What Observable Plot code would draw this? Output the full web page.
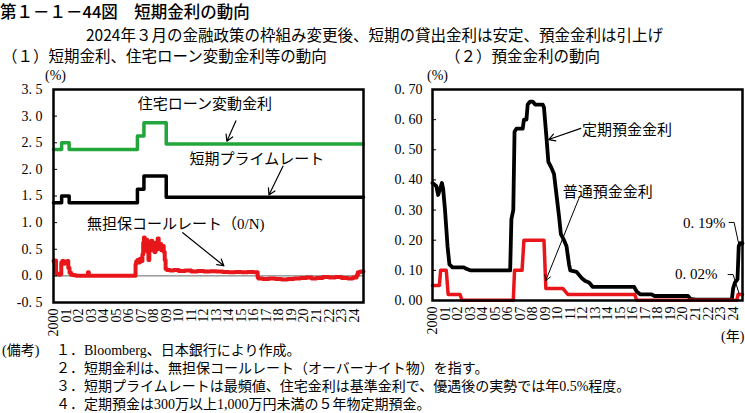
<!DOCTYPE html>
<html><head><meta charset="utf-8">
<script src="https://cdn.jsdelivr.net/npm/d3@7"></script>
<script src="https://cdn.jsdelivr.net/npm/@observablehq/plot@0.6"></script>
<style>
body{margin:0;background:#fff;}
#root{position:relative;width:745px;height:413px;background:#fff;overflow:hidden;}
.a{position:absolute;white-space:nowrap;line-height:1;color:#000;}
.sans{font-family:'Noto Sans CJK JP',sans-serif;}
.serif{font-family:'Liberation Serif','Noto Sans CJK JP',serif;}
.chart{position:absolute;top:60px;}
</style></head>
<body>
<div id="root">
  <div class="a sans" style="left:0;top:3px;font-size:16.5px;font-weight:500;">第１－１－44図　短期金利の動向</div>
  <div class="a sans" style="left:86px;top:27px;font-size:15.5px;">2024年３月の金融政策の枠組み変更後、短期の貸出金利は安定、預金金利は引上げ</div>
  <div class="a sans" style="left:2px;top:48px;font-size:15.5px;">（１）短期金利、住宅ローン変動金利等の動向</div>
  <div class="a sans" style="left:445px;top:48px;font-size:15.5px;">（２）預金金利の動向</div>
  <div class="a serif" style="left:45px;top:69px;font-size:14px;">(%)</div>
  <div class="a serif" style="left:427px;top:69px;font-size:14px;">(%)</div>
  <div class="a serif" style="left:721px;top:330px;font-size:14px;">(年)</div>
  <div id="left" class="chart" style="left:0;"></div>
  <div id="right" class="chart" style="left:380px;"></div>
  <div class="a serif" style="left:2px;top:344px;font-size:14px;">(備考)</div>
  <div class="a serif" style="left:56px;top:344px;font-size:14px;">１．Bloomberg、日本銀行により作成。</div>
  <div class="a serif" style="left:56px;top:362px;font-size:14px;">２．短期金利は、無担保コールレート（オーバーナイト物）を指す。</div>
  <div class="a serif" style="left:56px;top:380px;font-size:14px;">３．短期プライムレートは最頻値、住宅金利は基準金利で、優遇後の実勢では年0.5%程度。</div>
  <div class="a serif" style="left:56px;top:398px;font-size:14px;">４．定期預金は300万以上1,000万円未満の５年物定期預金。</div>
</div>
<script>
// ---------- data ----------
const yearTicks = [2000,2001,2002,2003,2004,2005,2006,2007,2008,2009,2010,2011,2012,2013,2014,2015,2016,2017,2018,2019,2020,2021,2022,2023,2024];
const yearLabels = ["2000","01","02","03","04","05","06","07","08","09","10","11","12","13","14","15","16","17","18","19","20","21","22","23","24"];
const leftYTicks = [-0.5,0,0.5,1,1.5,2,2.5,3,3.5];
const rightYTicks = [0,0.1,0.2,0.3,0.4,0.5,0.6,0.7];

// 住宅ローン変動金利 / 短期プライムレート (step changes)
const housingX = [2000, 2000.65, 2001.25, 2006.7, 2007.22, 2009.0, 2024.75];
const housingY = [2.375, 2.5, 2.375, 2.625, 2.875, 2.475, 2.475];
const primeX = [2000, 2000.65, 2001.25, 2006.7, 2007.22, 2009.0, 2024.75];
const primeY = [1.375, 1.5, 1.375, 1.625, 1.875, 1.475, 1.475];

// 無担保コールレート (O/N)
const callX = [2000.00,2000.05,2000.10,2000.20,2000.30,2000.40,2000.55,2000.62,2000.70,2000.80,2000.90,2001.00,2001.10,2001.18,2001.28,2001.40,2001.60,2001.80,2002.00,2002.40,2002.75,2002.82,2003.20,2003.70,2004.20,2004.70,2005.20,2005.70,2006.20,2006.55,2006.60,2006.70,2006.80,2006.90,2007.00,2007.10,2007.16,2007.22,2007.28,2007.35,2007.42,2007.48,2007.58,2007.65,2007.72,2007.80,2007.88,2007.95,2008.05,2008.15,2008.22,2008.32,2008.40,2008.50,2008.60,2008.70,2008.80,2008.88,2008.95,2009.05,2009.30,2009.60,2010.00,2010.50,2011.00,2011.50,2012.00,2012.50,2013.00,2013.50,2014.00,2014.50,2015.00,2015.50,2016.00,2016.30,2016.35,2016.70,2017.20,2017.70,2018.20,2018.70,2019.20,2019.70,2020.20,2020.60,2021.00,2021.50,2022.00,2022.50,2023.00,2023.50,2023.90,2024.20,2024.30,2024.50,2024.75];
const callY = [0.28,0.25,0.29,0.05,0.03,0.02,0.03,0.25,0.28,0.23,0.27,0.25,0.28,0.15,0.06,0.02,0.01,0.002,0.002,0.003,0.07,0.002,0.001,0.002,0.001,0.002,0.001,0.002,0.002,0.22,0.27,0.30,0.25,0.32,0.28,0.40,0.62,0.72,0.52,0.50,0.68,0.45,0.30,0.60,0.48,0.66,0.50,0.58,0.45,0.62,0.50,0.70,0.52,0.60,0.48,0.56,0.45,0.30,0.13,0.11,0.10,0.11,0.09,0.10,0.08,0.09,0.08,0.085,0.08,0.075,0.07,0.075,0.07,0.075,0.07,-0.03,-0.05,-0.06,-0.05,-0.06,-0.07,-0.06,-0.05,-0.04,-0.03,-0.05,-0.04,-0.02,-0.03,-0.02,-0.04,-0.05,-0.03,0.01,0.07,0.08,0.08];

// 定期預金金利
const tdX = [2000.0,2000.3,2000.45,2000.6,2000.75,2000.85,2001.0,2001.2,2001.35,2001.6,2002.0,2002.5,2002.7,2003.0,2004.0,2005.0,2006.0,2006.2,2006.3,2006.45,2006.55,2006.7,2007.0,2007.2,2007.3,2007.5,2007.6,2007.8,2008.0,2008.2,2008.8,2008.9,2009.1,2009.25,2009.5,2009.7,2009.9,2010.1,2010.25,2010.5,2010.7,2010.9,2011.0,2011.5,2011.7,2011.9,2012.2,2012.5,2012.8,2014.0,2015.0,2016.1,2016.3,2016.6,2017.5,2017.7,2020.4,2020.6,2021.0,2022.0,2023.0,2023.9,2024.0,2024.15,2024.35,2024.45,2024.55,2024.75];
const tdY = [0.39,0.38,0.35,0.37,0.39,0.37,0.30,0.18,0.12,0.11,0.11,0.11,0.105,0.10,0.10,0.10,0.10,0.10,0.27,0.30,0.56,0.57,0.57,0.57,0.60,0.60,0.65,0.66,0.66,0.65,0.65,0.64,0.54,0.46,0.44,0.42,0.35,0.28,0.22,0.20,0.18,0.12,0.10,0.095,0.085,0.075,0.065,0.06,0.045,0.045,0.045,0.045,0.03,0.02,0.02,0.015,0.015,0.005,0.003,0.003,0.003,0.003,0.04,0.06,0.07,0.18,0.19,0.19];

// 普通預金金利
const odX = [2000.0,2000.55,2000.65,2001.1,2001.25,2002.2,2002.35,2006.45,2006.55,2007.15,2007.3,2008.9,2009.05,2010.4,2010.8,2016.15,2016.3,2024.3,2024.4,2024.75];
const odY = [0.05,0.05,0.10,0.10,0.02,0.02,0.001,0.001,0.10,0.10,0.20,0.20,0.04,0.04,0.02,0.02,0.001,0.001,0.02,0.02];

// ---------- drawing ----------
const serif = "'Liberation Serif','Noto Sans CJK JP',serif";
const green = "#22a63b", red = "#e8161b";
const pts = (xs, ys) => xs.map((x, i) => ({x, y: ys[i]}));
const yearFmt = d => yearLabels[yearTicks.indexOf(d)];
const fmtL = d => d3.format(".1f")(d).replace(".", ". ").replace("−", "-");
const fmtR = d => d3.format(".2f")(d).replace(".", ". ");

const common = {
  x: {domain: [2000, 2024.75]},
  style: {fontFamily: serif, fontSize: "14px", color: "black", background: "transparent", overflow: "visible"}
};
const xAxis = Plot.axisX({ticks: yearTicks, tickFormat: yearFmt, tickRotate: -90, tickSize: 0, tickPadding: 6, label: null, fontSize: 14, fontFamily: serif});

const left = Plot.plot({
  ...common,
  width: 380, height: 285,
  marginLeft: 53, marginRight: 17, marginTop: 29, marginBottom: 43,
  y: {domain: [-0.5, 3.5]},
  marks: [
    Plot.ruleY([0], {stroke: "#666", strokeWidth: 1}),
    Plot.line(pts(housingX, housingY), {x: "x", y: "y", curve: "step-after", stroke: green, strokeWidth: 3.5}),
    Plot.line(pts(primeX, primeY), {x: "x", y: "y", curve: "step-after", stroke: "black", strokeWidth: 3.5}),
    Plot.line(pts(callX, callY), {x: "x", y: "y", curve: "step-after", stroke: red, strokeWidth: 4, strokeLinejoin: "round"}),
    Plot.text([{x: 2012.08, y: 3.23, t: "住宅ローン変動金利"}], {x: "x", y: "y", text: "t", fontSize: 15, fontFamily: serif}),
    Plot.text([{x: 2016.24, y: 2.2, t: "短期プライムレート"}], {x: "x", y: "y", text: "t", fontSize: 15, fontFamily: serif}),
    Plot.text([{x: 2009.76, y: 0.98, t: "無担保コールレート（0/N)"}], {x: "x", y: "y", text: "t", fontSize: 15, fontFamily: serif}),
    Plot.arrow([{x1: 2014.56, y1: 2.91, x2: 2013.84, y2: 2.53}], {x1: "x1", y1: "y1", x2: "x2", y2: "y2", stroke: "black", strokeWidth: 1.2, headLength: 9}),
    Plot.arrow([{x1: 2018.32, y1: 2.06, x2: 2017.2, y2: 1.52}], {x1: "x1", y1: "y1", x2: "x2", y2: "y2", stroke: "black", strokeWidth: 1.2, headLength: 9}),
    Plot.arrow([{x1: 2010.32, y1: 0.81, x2: 2013.6, y2: 0.19}], {x1: "x1", y1: "y1", x2: "x2", y2: "y2", stroke: "black", strokeWidth: 1.2, headLength: 9}),
    Plot.frame({stroke: "black", strokeWidth: 2.5}),
    Plot.axisY({ticks: leftYTicks, tickFormat: fmtL, tickSize: -4, tickPadding: 15, label: null, fontSize: 14, fontFamily: serif}),
    xAxis
  ]
});
document.getElementById("left").append(left);

const right = Plot.plot({
  ...common,
  width: 365, height: 285,
  marginLeft: 52, marginRight: 3, marginTop: 29, marginBottom: 45,
  y: {domain: [0, 0.7]},
  marks: [
    Plot.line(pts(tdX, tdY), {x: "x", y: "y", stroke: "black", strokeWidth: 3.8, strokeLinejoin: "round"}),
    Plot.line(pts(odX, odY), {x: "x", y: "y", stroke: red, strokeWidth: 3.5, strokeLinejoin: "round"}),
    Plot.text([{x: 2015.52, y: 0.564, t: "定期預金金利"}], {x: "x", y: "y", text: "t", fontSize: 15, fontFamily: serif}),
    Plot.text([{x: 2014.0, y: 0.358, t: "普通預金金利"}], {x: "x", y: "y", text: "t", fontSize: 15, fontFamily: serif}),
    Plot.text([{x: 2021.7, y: 0.255, t: "0. 19%"}], {x: "x", y: "y", text: "t", fontSize: 15, fontFamily: serif}),
    Plot.text([{x: 2021.05, y: 0.086, t: "0. 02%"}], {x: "x", y: "y", text: "t", fontSize: 15, fontFamily: serif}),
    Plot.arrow([{x1: 2011.84, y1: 0.571, x2: 2009.28, y2: 0.534}], {x1: "x1", y1: "y1", x2: "x2", y2: "y2", stroke: "black", strokeWidth: 1.2, headLength: 9}),
    Plot.arrow([{x1: 2011.68, y1: 0.338, x2: 2009.04, y2: 0.066}], {x1: "x1", y1: "y1", x2: "x2", y2: "y2", stroke: "black", strokeWidth: 1, headLength: 9}),
    Plot.line([[2023.68, 0.259], [2024.08, 0.259], [2024.48, 0.182]], {stroke: "black", strokeWidth: 1}),
    Plot.line([[2023.6, 0.086], [2024.0, 0.086], [2024.48, 0.023]], {stroke: "black", strokeWidth: 1}),
    Plot.frame({stroke: "black", strokeWidth: 2.5}),
    Plot.axisY({ticks: rightYTicks, tickFormat: fmtR, tickSize: -4, tickPadding: 14, label: null, fontSize: 14, fontFamily: serif}),
    xAxis
  ]
});
document.getElementById("right").append(right);
</script>
</body></html>
